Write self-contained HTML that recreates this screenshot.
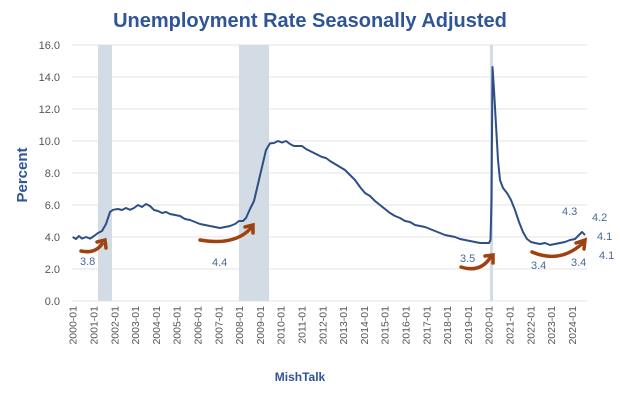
<!DOCTYPE html><html><head><style>body{margin:0;background:#fff}svg{display:block}text{font-family:"Liberation Sans",sans-serif}</style></head><body>
<svg width="620" height="401" xmlns="http://www.w3.org/2000/svg">
<text x="310" y="27" text-anchor="middle" font-size="20" font-weight="bold" fill="#2f5597">Unemployment Rate Seasonally Adjusted</text>
<g stroke="#e3e3e3" stroke-width="1">
<line x1="72" x2="587" y1="45" y2="45"/><line x1="72" x2="587" y1="77" y2="77"/><line x1="72" x2="587" y1="109" y2="109"/><line x1="72" x2="587" y1="141" y2="141"/><line x1="72" x2="587" y1="173" y2="173"/><line x1="72" x2="587" y1="205" y2="205"/><line x1="72" x2="587" y1="237" y2="237"/><line x1="72" x2="587" y1="269" y2="269"/><line x1="72" x2="587" y1="301" y2="301"/>
</g>
<rect x="98" y="45" width="14" height="256" fill="#d3dbe5"/>
<rect x="239" y="45" width="30" height="256" fill="#d3dbe5"/>
<rect x="490" y="45" width="3" height="256" fill="#d3dbe5"/>
<g font-size="11" fill="#555" text-anchor="end">
<text x="60" y="49">16.0</text><text x="60" y="81">14.0</text><text x="60" y="113">12.0</text><text x="60" y="145">10.0</text><text x="60" y="177">8.0</text><text x="60" y="209">6.0</text><text x="60" y="241">4.0</text><text x="60" y="273">2.0</text><text x="60" y="305">0.0</text>
</g>
<text transform="translate(27,175) rotate(-90)" text-anchor="middle" font-size="15" font-weight="bold" fill="#2f5597">Percent</text>
<g font-size="10.5" fill="#555" text-anchor="end">
<text transform="translate(76.7,306) rotate(-90)">2000-01</text>
<text transform="translate(97.5,306) rotate(-90)">2001-01</text>
<text transform="translate(118.3,306) rotate(-90)">2002-01</text>
<text transform="translate(139.1,306) rotate(-90)">2003-01</text>
<text transform="translate(159.9,306) rotate(-90)">2004-01</text>
<text transform="translate(180.7,306) rotate(-90)">2005-01</text>
<text transform="translate(201.5,306) rotate(-90)">2006-01</text>
<text transform="translate(222.3,306) rotate(-90)">2007-01</text>
<text transform="translate(243.1,306) rotate(-90)">2008-01</text>
<text transform="translate(263.9,306) rotate(-90)">2009-01</text>
<text transform="translate(284.7,306) rotate(-90)">2010-01</text>
<text transform="translate(305.5,306) rotate(-90)">2011-01</text>
<text transform="translate(326.3,306) rotate(-90)">2012-01</text>
<text transform="translate(347.1,306) rotate(-90)">2013-01</text>
<text transform="translate(367.9,306) rotate(-90)">2014-01</text>
<text transform="translate(388.7,306) rotate(-90)">2015-01</text>
<text transform="translate(409.5,306) rotate(-90)">2016-01</text>
<text transform="translate(430.3,306) rotate(-90)">2017-01</text>
<text transform="translate(451.1,306) rotate(-90)">2018-01</text>
<text transform="translate(471.9,306) rotate(-90)">2019-01</text>
<text transform="translate(492.7,306) rotate(-90)">2020-01</text>
<text transform="translate(513.5,306) rotate(-90)">2021-01</text>
<text transform="translate(534.3,306) rotate(-90)">2022-01</text>
<text transform="translate(555.1,306) rotate(-90)">2023-01</text>
<text transform="translate(575.9,306) rotate(-90)">2024-01</text>
</g>
<text x="300" y="381" text-anchor="middle" font-size="12" font-weight="bold" fill="#2f5597">MishTalk</text>
<polyline fill="none" stroke="#2e4f85" stroke-width="2" stroke-linejoin="round" points="72.7,237 76,239 79,236 82,238.6 86,237 90,238.6 94,236 98,233 102,231 106,224 110,212 113,209.8 118,209 122,210 126,208 130,209.8 134,208 138,205 142,207 146,204 150,206 154,210 158,211 162,213 166,212 170,214 175,215 180,216 185,219 190,220 195,222 200,224 205,225 210,226 215,227 220,228 225,227 230,226 235,224 239,221 243,221 246,218 250,209 254,201 258,184 262,167 266,150 270,143.4 274,143 278,141 282,142.6 286,141 290,144 294,146 298,146 302,146 306,149 310,151 314,153 318,155 322,157 326,158 330,161 335,164 340,167 345,170 350,175 355,180 360,187 365,193 370,196 375,201 380,205 385,209 390,213 395,216 400,218 405,221 410,222 415,225 420,226 425,227 430,229 435,231 440,233 445,235 450,236 455,237 460,239 465,240 470,241 475,242 480,243 485,243 489,243 490.5,240 491.5,200 492.5,67 494,90 496,125 498,160 500,180 503,188 507,193 511,200 515,210 519,222 523,232 527,239 531,242 535,243 540,244 545,243 550,245 555,244 560,243 565,242 570,240 575,239 579,235 582,232 585,235"/>
<g fill="none" stroke="#a0420f" stroke-width="3.5" stroke-linecap="round">
<path d="M81,251 Q95,254 102,244"/><path d="M97,242 L105,240 L106,248"/>
<path d="M200,240 Q235,246 251,228"/><path d="M245,227 L253,225 L253,233"/>
<path d="M461,267 Q480,273 490,258"/><path d="M485,256 L493,255 L493,263"/>
<path d="M532,252 Q560,264 583,243"/><path d="M576,243 L585,240 L584,249"/>
</g>
<g font-size="11" fill="#4a6a9a">
<text x="80" y="265">3.8</text><text x="212" y="266">4.4</text><text x="460" y="262">3.5</text><text x="531" y="269">3.4</text><text x="571" y="266">3.4</text><text x="599" y="259">4.1</text><text x="597" y="240">4.1</text><text x="592" y="221">4.2</text><text x="562" y="215">4.3</text>
</g>
</svg></body></html>
